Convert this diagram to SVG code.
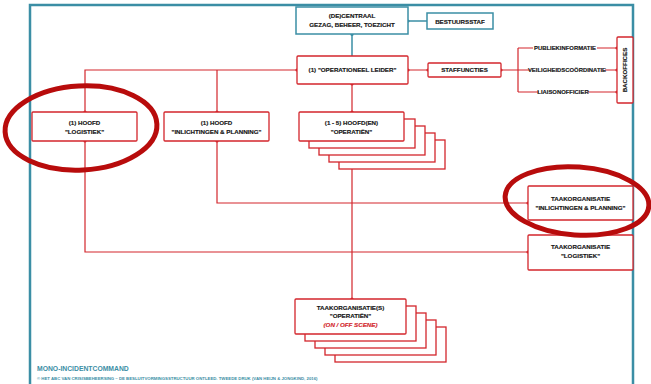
<svg xmlns="http://www.w3.org/2000/svg" width="651" height="384" viewBox="0 0 651 384">
<defs>
<style>
.frame{fill:none;stroke:#3b8ea5;stroke-width:2.5}
.tl{fill:none;stroke:#3b8ea5;stroke-width:1.5}
.tbox{fill:#fff;stroke:#3b8ea5;stroke-width:1.5}
.rl{fill:none;stroke:#d3262c;stroke-width:1.2}
.rbox{fill:#fff;stroke:#d3262c;stroke-width:1.3}
.dot{fill:#d3262c}
.tdot{fill:#3b8ea5}
.t{font-family:"Liberation Sans",Arial,sans-serif;font-weight:bold;font-size:6.2px;fill:#151515;stroke:#151515;stroke-width:0.15;text-anchor:middle}
.lab{font-family:"Liberation Sans",Arial,sans-serif;font-weight:bold;font-size:5.9px;fill:#151515;stroke:#151515;stroke-width:0.15;text-anchor:middle}
.red{fill:#d3262c;stroke:#d3262c;font-style:italic}
.ring{fill:none;stroke:#b80c0c;stroke-width:5}
</style>
</defs>
<rect width="651" height="384" fill="#fff"/>
<path class="frame" d="M30,384 V5 H633 V384"/>
<g id="connectors">
<path class="tl" d="M352,34 V56 M408,21 H427"/>
<circle class="tdot" cx="352" cy="34.5" r="1.6"/>
<circle class="tdot" cx="408" cy="21" r="1.6"/>
<path class="rl" d="M297,70 H85 V252 H528 M217,70 V203 H528 M352,84 V299 M408,70 H428 M501,70 H518 M518,48 V92 M518,48 H617 M518,70 H617 M518,92 H617"/>
<circle class="dot" cx="297" cy="70" r="1.6"/>
<circle class="dot" cx="408" cy="70" r="1.6"/>
<circle class="dot" cx="428" cy="70" r="1.6"/>
<circle class="dot" cx="501" cy="70" r="1.6"/>
<circle class="dot" cx="352" cy="84" r="1.6"/>
<circle class="dot" cx="85" cy="112" r="1.6"/>
<circle class="dot" cx="85" cy="141" r="1.6"/>
<circle class="dot" cx="217" cy="112" r="1.6"/>
<circle class="dot" cx="217" cy="141" r="1.6"/>
<circle class="dot" cx="352" cy="112" r="1.6"/>
<circle class="dot" cx="352" cy="141" r="1.6"/>
<circle class="dot" cx="528" cy="203" r="1.6"/>
<circle class="dot" cx="528" cy="252" r="1.6"/>
<circle class="dot" cx="352" cy="299" r="1.6"/>
<circle class="dot" cx="617" cy="48" r="1.6"/>
<circle class="dot" cx="617" cy="70" r="1.6"/>
<circle class="dot" cx="617" cy="92" r="1.6"/>
<rect x="533" y="45" width="64" height="6" fill="#fff"/>
<text class="lab" x="565" y="50">PUBLIEKINFORMATIE</text>
<rect x="530" y="67" width="75" height="6" fill="#fff"/>
<text class="lab" x="567" y="72">VEILIGHEIDSCOÖRDINATIE</text>
<rect x="539" y="89" width="49" height="6" fill="#fff"/>
<text class="lab" x="563" y="94">LIAISONOFFICIER</text>
</g>
<g id="centraal">
<rect class="tbox" x="296" y="7" width="112" height="27"/>
<text class="t" x="352" y="18">(DE)CENTRAAL</text>
<text class="t" x="352" y="26.5">GEZAG, BEHEER, TOEZICHT</text>
</g>
<g id="bestuursstaf">
<rect class="tbox" x="427" y="13" width="66" height="16"/>
<text class="t" x="460" y="23.5">BESTUURSSTAF</text>
</g>
<g id="operationeel-leider">
<rect class="rbox" x="297" y="56" width="111" height="28" rx="1"/>
<text class="t" x="352.5" y="72">(1) "OPERATIONEEL LEIDER"</text>
</g>
<g id="staffuncties">
<rect class="rbox" x="428" y="63" width="73" height="14" rx="1"/>
<text class="t" x="464.5" y="72.2">STAFFUNCTIES</text>
</g>
<g id="backoffices">
<rect class="rbox" x="617" y="37" width="16" height="66" rx="1"/>
<text class="t" transform="translate(627.2,70) rotate(-90)" x="0" y="0">BACKOFFICES</text>
</g>
<g id="hoofd-logistiek">
<rect class="rbox" x="32" y="112" width="105" height="29" rx="1"/>
<text class="t" x="84.5" y="125">(1) HOOFD</text>
<text class="t" x="84.5" y="133.5">"LOGISTIEK"</text>
</g>
<g id="hoofd-inlichtingen">
<rect class="rbox" x="164" y="112" width="105" height="29" rx="1"/>
<text class="t" x="216.5" y="125">(1) HOOFD</text>
<text class="t" x="216.5" y="133.5">"INLICHTINGEN &amp; PLANNING"</text>
</g>
<g id="hoofden-operatien">
<rect class="rbox" x="339" y="140" width="106" height="29"/>
<rect class="rbox" x="329" y="133" width="106" height="29"/>
<rect class="rbox" x="319" y="126" width="106" height="29"/>
<rect class="rbox" x="309" y="119" width="106" height="29"/>
<rect class="rbox" x="299" y="112" width="105" height="29" rx="1"/>
<text class="t" x="351.5" y="125">(1 - 5) HOOFD(EN)</text>
<text class="t" x="351.5" y="133.5">"OPERATIËN"</text>
</g>
<g id="taak-inlichtingen">
<rect class="rbox" x="528" y="186" width="105" height="34" rx="1"/>
<text class="t" x="580.5" y="201">TAAKORGANISATIE</text>
<text class="t" x="580.5" y="209.5">"INLICHTINGEN &amp; PLANNING"</text>
</g>
<g id="taak-logistiek">
<rect class="rbox" x="528" y="235" width="105" height="35" rx="1"/>
<text class="t" x="580.5" y="249">TAAKORGANISATIE</text>
<text class="t" x="580.5" y="257.5">"LOGISTIEK"</text>
</g>
<g id="taak-operatien">
<rect class="rbox" x="335" y="327" width="111" height="35"/>
<rect class="rbox" x="325" y="320" width="111" height="35"/>
<rect class="rbox" x="315" y="313" width="111" height="35"/>
<rect class="rbox" x="305" y="306" width="111" height="35"/>
<rect class="rbox" x="295" y="299" width="111" height="35" rx="1"/>
<text class="t" x="350.5" y="310">TAAKORGANISATIE(S)</text>
<text class="t" x="350.5" y="318">"OPERATIËN"</text>
<text class="t red" x="350.5" y="327">(ON / OFF SCENE)</text>
</g>
<g id="highlights">
<ellipse class="ring" cx="81" cy="128" rx="76" ry="42" transform="rotate(-3 81 128)"/>
<ellipse class="ring" cx="577" cy="201" rx="72" ry="34" transform="rotate(4 577 201)"/>
</g>
<g id="footer">
<text x="37" y="371" font-family="Liberation Sans, Arial, sans-serif" font-weight="bold" font-size="6.8" fill="#3b8ea5">MONO-INCIDENTCOMMAND</text>
<text x="37" y="380" font-family="Liberation Sans, Arial, sans-serif" font-weight="bold" font-size="4.3" fill="#3b8ea5">©  HET ABC VAN CRISISBEHEERSING – DE BESLUITVORMINGSSTRUCTUUR ONTLEED. TWEEDE DRUK (VAN HEIJN &amp; JONGKIND, 2016)</text>
</g>
</svg>
